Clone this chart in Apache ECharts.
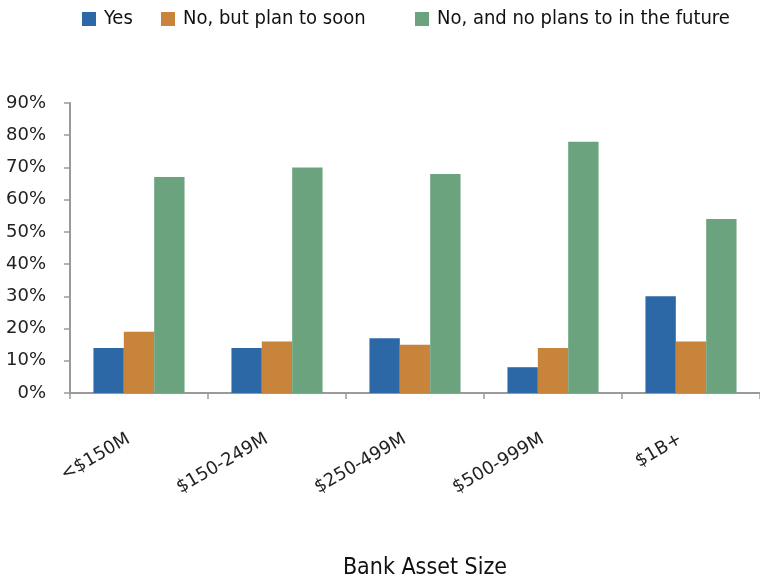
<!DOCTYPE html>
<html>
<head>
<meta charset="utf-8">
<script src="https://cdn.jsdelivr.net/npm/echarts@6/dist/echarts.min.js"></script>
<style>html,body{margin:0;padding:0;background:#fff;}#c{width:760px;height:583px;}</style>
</head>
<body>
<div id="c"></div>
<script>
const categories = ['<$150M', '$150-249M', '$250-499M', '$500-999M', '$1B+'];
const seriesNames = ['Yes', 'No, but plan to soon', 'No, and no plans to in the future'];
const yesValues = [14, 14, 17, 8, 30];
const soonValues = [19, 16, 15, 14, 16];
const noPlanValues = [67, 70, 68, 78, 54];
const yTicks = [0, 10, 20, 30, 40, 50, 60, 70, 80, 90];
const xTitle = 'Bank Asset Size';

const colors = ['#2D68A6', '#C8843B', '#6AA37E'];
const legendLefts = [82, 161, 415];
const narrow = '"Liberation Sans Narrow", "DejaVu Sans Condensed", "Arial Narrow", sans-serif';
const seriesData = [yesValues, soonValues, noPlanValues];

const chart = echarts.init(document.getElementById('c'), null, {renderer: 'canvas'});
chart.setOption({
  animation: false,
  backgroundColor: '#fff',
  color: colors,
  legend: seriesNames.map((n, i) => ({
    data: [n],
    left: legendLefts[i],
    top: 8,
    padding: 0,
    icon: 'rect',
    itemWidth: 14,
    itemHeight: 14,
    itemGap: 8,
    textStyle: {fontFamily: narrow, fontSize: 20, color: '#111', lineHeight: 22, padding: [0, 0, 0, 3]}
  })),
  grid: {left: 70, top: 103, width: 694, height: 290, containLabel: false},
  xAxis: {
    type: 'category',
    data: categories,
    name: xTitle,
    nameLocation: 'middle',
    nameGap: 164,
    nameTextStyle: {fontFamily: narrow, fontSize: 23, color: '#111', padding: [0, 0, 0, 20]},
    axisLine: {lineStyle: {color: '#9a9a9a', width: 2}},
    axisTick: {show: true, length: 6, lineStyle: {color: '#9a9a9a', width: 1.5}},
    axisLabel: {
      interval: 0, rotate: 30, margin: 39, padding: [0, 12, 0, 0],
      fontFamily: '"DejaVu Sans", Verdana, sans-serif', fontSize: 18, color: '#222'
    },
    splitLine: {show: false}
  },
  yAxis: {
    type: 'value',
    min: yTicks[0],
    max: yTicks[yTicks.length - 1],
    interval: 10,
    axisLine: {show: true, lineStyle: {color: '#9a9a9a', width: 2}},
    axisTick: {show: true, length: 6, lineStyle: {color: '#9a9a9a', width: 1.5}},
    axisLabel: {
      formatter: '{value}%', margin: 24,
      fontFamily: '"DejaVu Sans", Verdana, sans-serif', fontSize: 18, color: '#222'
    },
    splitLine: {show: false}
  },
  series: seriesNames.map((n, i) => ({
    name: n,
    type: 'bar',
    data: seriesData[i],
    barGap: '0%',
    barCategoryGap: '34%',
    itemStyle: {color: colors[i]}
  }))
});
</script>
</body>
</html>
